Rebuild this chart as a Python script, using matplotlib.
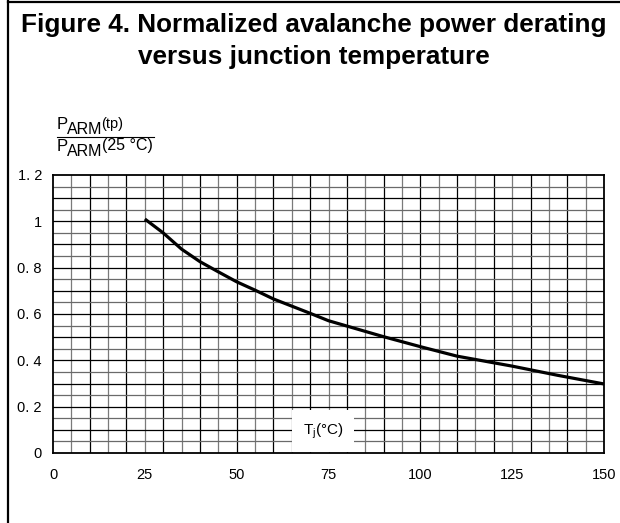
"""Normalized avalanche power derating versus junction temperature."""

import matplotlib

matplotlib.use("Agg")
import matplotlib.pyplot as plt
from matplotlib.lines import Line2D
import numpy as np

plt.rcParams["font.family"] = ["Liberation Sans", "DejaVu Sans"]
plt.rcParams["mathtext.default"] = "regular"

# junction temperature (degC) and normalized P_ARM
tj = [25, 30, 35, 40, 45, 50, 55, 60, 70, 75, 80, 90, 100, 110, 125, 137.5, 150]
p_norm = [1.01, 0.95, 0.88, 0.826, 0.782, 0.739, 0.703, 0.665, 0.603, 0.571,
          0.548, 0.502, 0.459, 0.418, 0.375, 0.335, 0.298]

x_ticks = [0, 25, 50, 75, 100, 125, 150]
y_ticks = [0, 0.2, 0.4, 0.6, 0.8, 1.0, 1.2]
y_tick_labels = ["0", "0. 2", "0. 4", "0. 6", "0. 8", "1", "1. 2"]

W, H = 620, 523
fig = plt.figure(figsize=(W / 100, H / 100), dpi=100)
renderer = fig.canvas.get_renderer()

# outer frame: left and top rules
fig.add_artist(Line2D([8 / W, 8 / W], [0, 1 - 1 / H], color="black", lw=1.6))
fig.add_artist(Line2D([8 / W, 1], [1 - 2 / H, 1 - 2 / H], color="black", lw=1.6))

fig.text(314 / W, 1 - 25 / H, "Figure 4. Normalized avalanche power derating",
         ha="center", va="center", fontsize=18.8, fontweight="bold")
fig.text(314 / W, 1 - 57 / H, "versus junction temperature",
         ha="center", va="center", fontsize=18.8, fontweight="bold")

ax = fig.add_axes([53 / W, 1 - 453 / H, 551 / W, 278 / H])
ax.set_xlim(0, 150)
ax.set_ylim(0, 1.2)

# chart paper grid
for x in np.arange(5, 150, 5):
    major = int(round(x)) % 10 == 0
    ax.axvline(x, color="black" if major else "#7a7a7a", lw=0.9, zorder=1)
for i in range(1, 24):
    y = i * 0.05
    ax.axhline(y, color="black" if i % 2 == 0 else "#6a6a6a", lw=0.9, zorder=1)

ax.plot(tj, p_norm, color="black", lw=2.3, zorder=3, solid_capstyle="butt")

ax.set_xticks(x_ticks)
ax.set_xticklabels([str(v) for v in x_ticks])
ax.set_yticks(y_ticks)
ax.set_yticklabels(y_tick_labels)
ax.tick_params(length=0, labelsize=10.5)
ax.tick_params(axis="x", pad=11)
ax.tick_params(axis="y", pad=8)
for s in ax.spines.values():
    s.set_linewidth(1.3)

ax.text(73.5, 0.095, "T$_j$(°C)", ha="center", va="center", fontsize=11, zorder=4,
        bbox=dict(facecolor="white", edgecolor="none", pad=8))


def put_pieces(x0, pieces):
    """Place text pieces side by side; each piece is (text, size, baseline_px)."""
    x = x0
    for text, size, base in pieces:
        t = fig.text(x / W, 1 - base / H, text, ha="left", va="baseline", fontsize=size)
        x += t.get_window_extent(renderer).width - 1
    return x


# y-axis label drawn as a fraction
put_pieces(57, [("P", 12, 129), ("ARM", 11.5, 134), ("(tp)", 10.5, 128)])
right = put_pieces(57, [("P", 12, 151), ("ARM", 11.5, 156), ("(25 °C)", 11.5, 150)])
fig.add_artist(Line2D([57 / W, (right + 2) / W], [1 - 137 / H, 1 - 137 / H],
                      color="black", lw=0.8))

fig.savefig("out.png", dpi=100)
